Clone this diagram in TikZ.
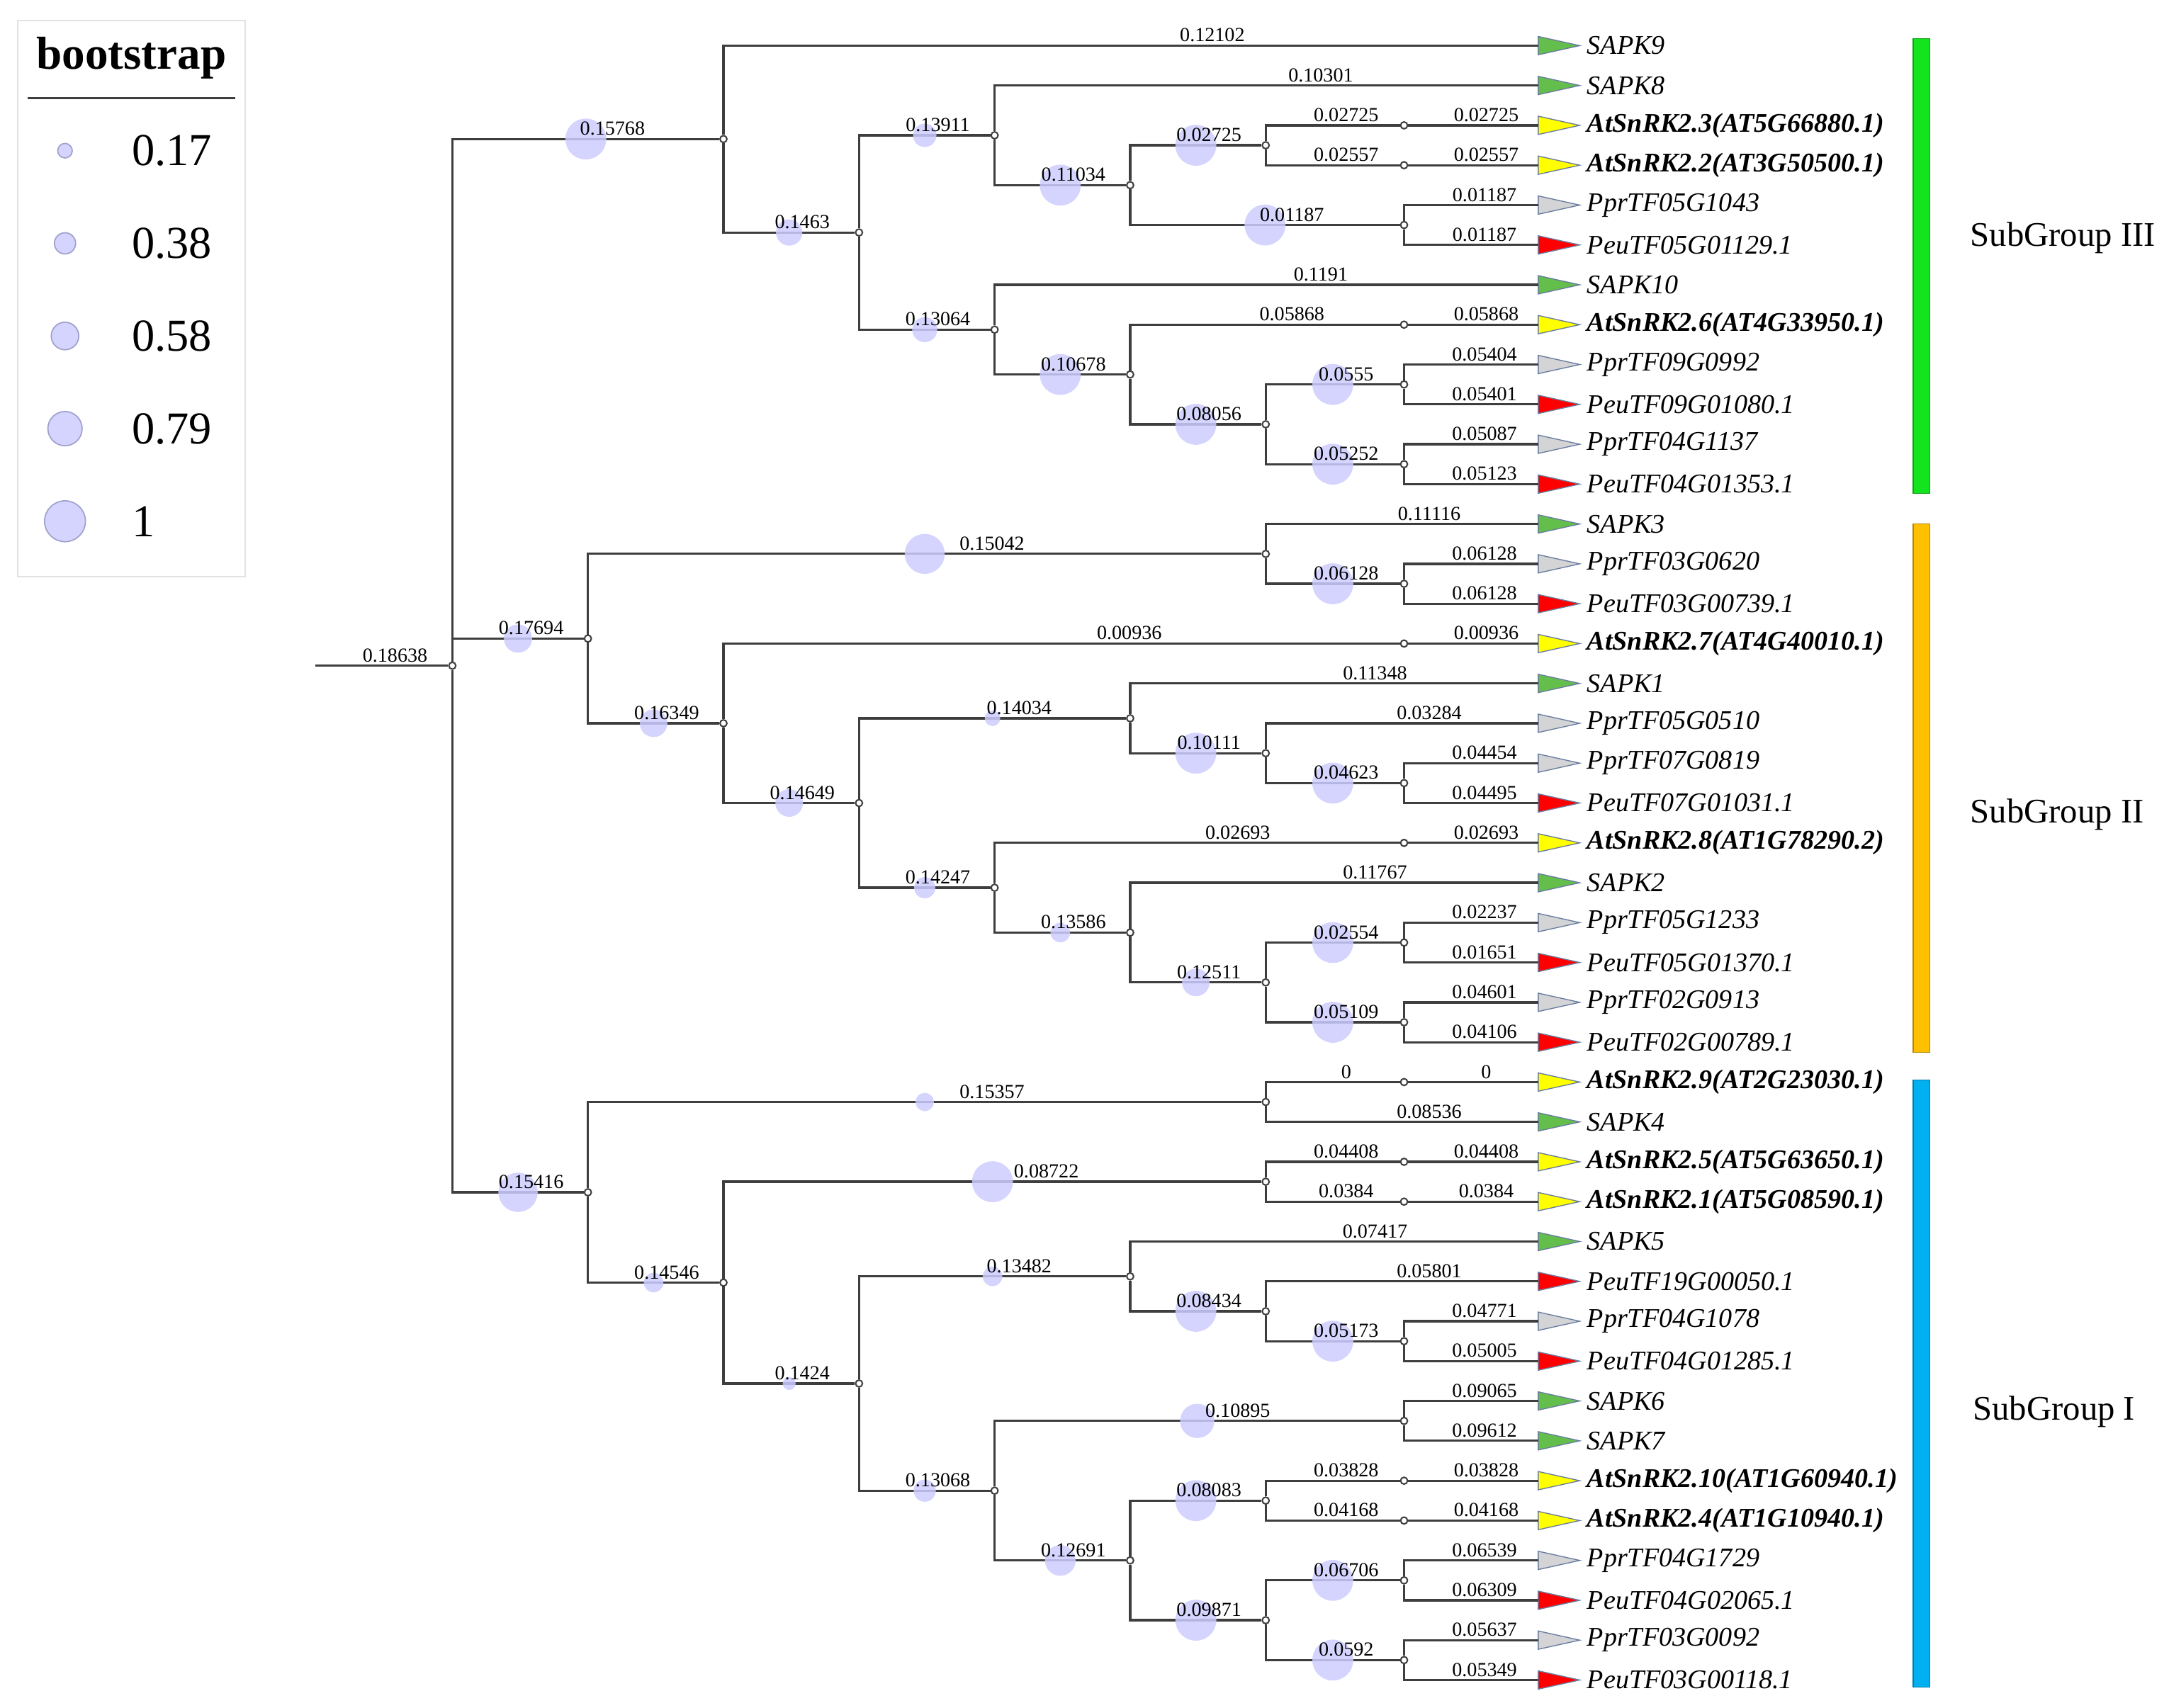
\documentclass[tikz,border=0pt]{standalone}
\usepackage{fontspec}
\setmainfont{Liberation Serif}
\usepackage{tikz}

\definecolor{linecol}{RGB}{62,62,62}
\definecolor{bootfill}{RGB}{204,204,255}
\definecolor{bootedge}{RGB}{160,160,205}
\definecolor{csapk}{RGB}{100,190,75}
\definecolor{catg}{RGB}{255,255,0}
\definecolor{cppr}{RGB}{212,212,214}
\definecolor{cpeu}{RGB}{255,0,0}
\definecolor{triedge}{RGB}{105,125,160}
\definecolor{legframe}{RGB}{226,226,226}
\definecolor{barIII}{RGB}{20,228,30}
\definecolor{barII}{RGB}{255,192,0}
\definecolor{barI}{RGB}{0,176,240}

\newcommand\leaffont{\fontsize{11.1}{13}\selectfont}
\newcommand\blenfont{\fontsize{8.2}{9}\selectfont}

\tikzset{
  branch/.style={draw=linecol, line width=0.95pt},
  knot/.style={circle, draw=linecol, fill=white, line width=0.6pt, inner sep=0pt, minimum size=0.1cm},
  boot/.style={circle, fill=bootfill, fill opacity=0.85, inner sep=0pt, minimum size={(0.132+0.46*#1)*1cm}},
  blen/.style={pos=0.8, anchor=south, inner sep=1pt, font=\blenfont, text=black},
  leaf/.style={anchor=west, inner sep=0pt, font=\leaffont\itshape},
  labsapk/.style={}, labppr/.style={}, labpeu/.style={},
  labatg/.style={font=\leaffont\bfseries\itshape},
  leaftri/.style={fill=c#1, draw=triedge, line width=0.4pt},
  grp/.style={anchor=west, inner sep=0pt, font=\fontsize{14.2}{16}\selectfont},
  bar/.style={fill=#1, draw=#1!70!black, line width=0.4pt},
}

\begin{document}
\begin{tikzpicture}[x=0.02cm, y=-0.5766cm]
\useasboundingbox (0,-1.1446) rectangle (1568,41.692);

%% legend
\draw[legframe, line width=0.6pt] (13,-0.624) rectangle (177,13.319);
\node[font=\fontsize{19}{21}\selectfont\bfseries] (bs) at (95,0.312) {bootstrap};
\draw[linecol, line width=0.8pt] (20,1.318) -- (170,1.318);
\foreach \b/\r [count=\j] in {0.17/2.636, 0.38/4.960, 0.58/7.284, 0.79/9.608, 1/11.932}{
  \node[boot=\b, draw=bootedge, line width=0.5pt] (lc\j) at (47,\r) {};
  \node[anchor=west, inner sep=0pt, font=\fontsize{18.8}{21}\selectfont] (lt\j) at (95,\r) {\b};
}

%% leaves
\foreach \txt/\k [count=\i from 0] in {SAPK9/sapk, SAPK8/sapk, AtSnRK2.3(AT5G66880.1)/atg, AtSnRK2.2(AT3G50500.1)/atg,
  PprTF05G1043/ppr, PeuTF05G01129.1/peu, SAPK10/sapk, AtSnRK2.6(AT4G33950.1)/atg, PprTF09G0992/ppr,
  PeuTF09G01080.1/peu, PprTF04G1137/ppr, PeuTF04G01353.1/peu, SAPK3/sapk, PprTF03G0620/ppr,
  PeuTF03G00739.1/peu, AtSnRK2.7(AT4G40010.1)/atg, SAPK1/sapk, PprTF05G0510/ppr, PprTF07G0819/ppr,
  PeuTF07G01031.1/peu, AtSnRK2.8(AT1G78290.2)/atg, SAPK2/sapk, PprTF05G1233/ppr, PeuTF05G01370.1/peu,
  PprTF02G0913/ppr, PeuTF02G00789.1/peu, AtSnRK2.9(AT2G23030.1)/atg, SAPK4/sapk, AtSnRK2.5(AT5G63650.1)/atg,
  AtSnRK2.1(AT5G08590.1)/atg, SAPK5/sapk, PeuTF19G00050.1/peu, PprTF04G1078/ppr, PeuTF04G01285.1/peu,
  SAPK6/sapk, SAPK7/sapk, AtSnRK2.10(AT1G60940.1)/atg, AtSnRK2.4(AT1G10940.1)/atg, PprTF04G1729/ppr,
  PeuTF04G02065.1/peu, PprTF03G0092/ppr, PeuTF03G00118.1/peu}{
  \coordinate (t\i) at (1112,\i);
  \filldraw[leaftri=\k] (t\i) ++(0,-0.23) -- ++(30,0.23) -- ++(-30,0.23) -- cycle;
  \node[leaf, lab\k] (n\i) at (1147,\i) {\txt};
}

%% nodes
\coordinate (base) at (228,15.5547);
\node[knot] (rt) at (327,15.5547) {};
% SubGroup III
\node[knot] (v15768) at (523,2.34375) {};
\node[knot] (v1463) at (621,4.6875) {};
\node[knot] (v13911) at (719,2.25) {};
\node[knot] (v11034) at (817,3.5) {};
\node[knot] (v02725) at (915,2.5) {};
\node[knot] (k2) at (1015,2) {};
\node[knot] (k3) at (1015,3) {};
\node[knot] (v01187) at (1015,4.5) {};
\node[knot] (v13064) at (719,7.125) {};
\node[knot] (v10678) at (817,8.25) {};
\node[knot] (k7) at (1015,7) {};
\node[knot] (v08056) at (915,9.5) {};
\node[knot] (v0555) at (1015,8.5) {};
\node[knot] (v05252) at (1015,10.5) {};
% SubGroup II
\node[knot] (v17694) at (425,14.875) {};
\node[knot] (v15042) at (915,12.75) {};
\node[knot] (v06128) at (1015,13.5) {};
\node[knot] (v16349) at (523,17) {};
\node[knot] (k15) at (1015,15) {};
\node[knot] (v14649) at (621,19) {};
\node[knot] (v14034) at (817,16.875) {};
\node[knot] (v10111) at (915,17.75) {};
\node[knot] (v04623) at (1015,18.5) {};
\node[knot] (v14247) at (719,21.125) {};
\node[knot] (k20) at (1015,20) {};
\node[knot] (v13586) at (817,22.25) {};
\node[knot] (v12511) at (915,23.5) {};
\node[knot] (v02554) at (1015,22.5) {};
\node[knot] (v05109) at (1015,24.5) {};
% SubGroup I
\node[knot] (v15416) at (425,28.765625) {};
\node[knot] (v15357) at (915,26.5) {};
\node[knot] (k26) at (1015,26) {};
\node[knot] (v14546) at (523,31.03125) {};
\node[knot] (v08722) at (915,28.5) {};
\node[knot] (k28) at (1015,28) {};
\node[knot] (k29) at (1015,29) {};
\node[knot] (v1424) at (621,33.5625) {};
\node[knot] (v13482) at (817,30.875) {};
\node[knot] (v08434) at (915,31.75) {};
\node[knot] (v05173) at (1015,32.5) {};
\node[knot] (v13068) at (719,36.25) {};
\node[knot] (v10895) at (1015,34.5) {};
\node[knot] (v12691) at (817,38) {};
\node[knot] (v08083) at (915,36.5) {};
\node[knot] (k36) at (1015,36) {};
\node[knot] (k37) at (1015,37) {};
\node[knot] (v09871) at (915,39.5) {};
\node[knot] (v06706) at (1015,38.5) {};
\node[knot] (v0592) at (1015,40.5) {};

%%% edges
\draw[branch] (base) -- node[blen,pos=0.6]{0.18638} (rt);
\draw[branch] (rt) |- node[boot=1,pos=0.75]{} node[blen]{0.15768} (v15768);
\draw[branch] (rt) |- node[boot=0.6,pos=0.75]{} node[blen]{0.17694} (v17694);
\draw[branch] (rt) |- node[boot=0.95,pos=0.75]{} node[blen]{0.15416} (v15416);
% SubGroup III
\draw[branch] (v15768) |- node[blen]{0.12102} (t0);
\draw[branch] (v15768) |- node[boot=0.54,pos=0.75]{} node[blen]{0.1463} (v1463);
\draw[branch] (v1463) |- node[boot=0.45,pos=0.75]{} node[blen]{0.13911} (v13911);
\draw[branch] (v1463) |- node[boot=0.5,pos=0.75]{} node[blen]{0.13064} (v13064);
\draw[branch] (v13911) |- node[blen]{0.10301} (t1);
\draw[branch] (v13911) |- node[boot=1,pos=0.75]{} node[blen]{0.11034} (v11034);
\draw[branch] (v11034) |- node[boot=1,pos=0.75]{} node[blen]{0.02725} (v02725);
\draw[branch] (v11034) |- node[boot=1,pos=0.75]{} node[blen]{0.01187} (v01187);
\draw[branch] (v02725) |- node[blen]{0.02725} (k2);
\draw[branch] (k2) -- node[blen,pos=0.6]{0.02725} (t2);
\draw[branch] (v02725) |- node[blen]{0.02557} (k3);
\draw[branch] (k3) -- node[blen,pos=0.6]{0.02557} (t3);
\draw[branch] (v01187) |- node[blen]{0.01187} (t4);
\draw[branch] (v01187) |- node[blen]{0.01187} (t5);
\draw[branch] (v13064) |- node[blen]{0.1191} (t6);
\draw[branch] (v13064) |- node[boot=1,pos=0.75]{} node[blen]{0.10678} (v10678);
\draw[branch] (v10678) |- node[blen]{0.05868} (k7);
\draw[branch] (k7) -- node[blen,pos=0.6]{0.05868} (t7);
\draw[branch] (v10678) |- node[boot=1,pos=0.75]{} node[blen]{0.08056} (v08056);
\draw[branch] (v08056) |- node[boot=1,pos=0.75]{} node[blen]{0.0555} (v0555);
\draw[branch] (v08056) |- node[boot=1,pos=0.75]{} node[blen]{0.05252} (v05252);
\draw[branch] (v0555) |- node[blen]{0.05404} (t8);
\draw[branch] (v0555) |- node[blen]{0.05401} (t9);
\draw[branch] (v05252) |- node[blen]{0.05087} (t10);
\draw[branch] (v05252) |- node[blen]{0.05123} (t11);
% SubGroup II
\draw[branch] (v17694) |- node[boot=0.97,pos=0.75]{} node[blen]{0.15042} (v15042);
\draw[branch] (v17694) |- node[boot=0.58,pos=0.75]{} node[blen]{0.16349} (v16349);
\draw[branch] (v15042) |- node[blen]{0.11116} (t12);
\draw[branch] (v15042) |- node[boot=1,pos=0.75]{} node[blen]{0.06128} (v06128);
\draw[branch] (v06128) |- node[blen]{0.06128} (t13);
\draw[branch] (v06128) |- node[blen]{0.06128} (t14);
\draw[branch] (v16349) |- node[blen]{0.00936} (k15);
\draw[branch] (k15) -- node[blen,pos=0.6]{0.00936} (t15);
\draw[branch] (v16349) |- node[boot=0.58,pos=0.75]{} node[blen]{0.14649} (v14649);
\draw[branch] (v14649) |- node[boot=0.2,pos=0.75]{} node[blen]{0.14034} (v14034);
\draw[branch] (v14649) |- node[boot=0.38,pos=0.75]{} node[blen]{0.14247} (v14247);
\draw[branch] (v14034) |- node[blen]{0.11348} (t16);
\draw[branch] (v14034) |- node[boot=1,pos=0.75]{} node[blen]{0.10111} (v10111);
\draw[branch] (v10111) |- node[blen]{0.03284} (t17);
\draw[branch] (v10111) |- node[boot=1,pos=0.75]{} node[blen]{0.04623} (v04623);
\draw[branch] (v04623) |- node[blen]{0.04454} (t18);
\draw[branch] (v04623) |- node[blen]{0.04495} (t19);
\draw[branch] (v14247) |- node[blen]{0.02693} (k20);
\draw[branch] (k20) -- node[blen,pos=0.6]{0.02693} (t20);
\draw[branch] (v14247) |- node[boot=0.33,pos=0.75]{} node[blen]{0.13586} (v13586);
\draw[branch] (v13586) |- node[blen]{0.11767} (t21);
\draw[branch] (v13586) |- node[boot=0.58,pos=0.75]{} node[blen]{0.12511} (v12511);
\draw[branch] (v12511) |- node[boot=1,pos=0.75]{} node[blen]{0.02554} (v02554);
\draw[branch] (v12511) |- node[boot=1,pos=0.75]{} node[blen]{0.05109} (v05109);
\draw[branch] (v02554) |- node[blen]{0.02237} (t22);
\draw[branch] (v02554) |- node[blen]{0.01651} (t23);
\draw[branch] (v05109) |- node[blen]{0.04601} (t24);
\draw[branch] (v05109) |- node[blen]{0.04106} (t25);
% SubGroup I
\draw[branch] (v15416) |- node[boot=0.29,pos=0.75]{} node[blen]{0.15357} (v15357);
\draw[branch] (v15416) |- node[boot=0.33,pos=0.75]{} node[blen]{0.14546} (v14546);
\draw[branch] (v15357) |- node[blen]{0} (k26);
\draw[branch] (k26) -- node[blen,pos=0.6]{0} (t26);
\draw[branch] (v15357) |- node[blen]{0.08536} (t27);
\draw[branch] (v14546) |- node[boot=1,pos=0.75]{} node[blen]{0.08722} (v08722);
\draw[branch] (v14546) |- node[boot=0.12,pos=0.75]{} node[blen]{0.1424} (v1424);
\draw[branch] (v08722) |- node[blen]{0.04408} (k28);
\draw[branch] (k28) -- node[blen,pos=0.6]{0.04408} (t28);
\draw[branch] (v08722) |- node[blen]{0.0384} (k29);
\draw[branch] (k29) -- node[blen,pos=0.6]{0.0384} (t29);
\draw[branch] (v1424) |- node[boot=0.33,pos=0.75]{} node[blen]{0.13482} (v13482);
\draw[branch] (v1424) |- node[boot=0.41,pos=0.75]{} node[blen]{0.13068} (v13068);
\draw[branch] (v13482) |- node[blen]{0.07417} (t30);
\draw[branch] (v13482) |- node[boot=1,pos=0.75]{} node[blen]{0.08434} (v08434);
\draw[branch] (v08434) |- node[blen]{0.05801} (t31);
\draw[branch] (v08434) |- node[boot=1,pos=0.75]{} node[blen]{0.05173} (v05173);
\draw[branch] (v05173) |- node[blen]{0.04771} (t32);
\draw[branch] (v05173) |- node[blen]{0.05005} (t33);
\draw[branch] (v13068) |- node[boot=0.79,pos=0.75]{} node[blen]{0.10895} (v10895);
\draw[branch] (v13068) |- node[boot=0.68,pos=0.75]{} node[blen]{0.12691} (v12691);
\draw[branch] (v10895) |- node[blen]{0.09065} (t34);
\draw[branch] (v10895) |- node[blen]{0.09612} (t35);
\draw[branch] (v12691) |- node[boot=1,pos=0.75]{} node[blen]{0.08083} (v08083);
\draw[branch] (v12691) |- node[boot=1,pos=0.75]{} node[blen]{0.09871} (v09871);
\draw[branch] (v08083) |- node[blen]{0.03828} (k36);
\draw[branch] (k36) -- node[blen,pos=0.6]{0.03828} (t36);
\draw[branch] (v08083) |- node[blen]{0.04168} (k37);
\draw[branch] (k37) -- node[blen,pos=0.6]{0.04168} (t37);
\draw[branch] (v09871) |- node[boot=1,pos=0.75]{} node[blen]{0.06706} (v06706);
\draw[branch] (v09871) |- node[boot=1,pos=0.75]{} node[blen]{0.0592} (v0592);
\draw[branch] (v06706) |- node[blen]{0.06539} (t38);
\draw[branch] (v06706) |- node[blen]{0.06309} (t39);
\draw[branch] (v0592) |- node[blen]{0.05637} (t40);
\draw[branch] (v0592) |- node[blen]{0.05349} (t41);

%% group bars
\draw[bar=barIII] (1383,-0.173) rectangle (1395,11.238);
\draw[bar=barII] (1383,12.001) rectangle (1395,25.251);
\draw[bar=barI] (1383,25.945) rectangle (1395,41.173);
\node[grp] (g3) at (1424,4.821) {SubGroup III};
\node[grp] (g2) at (1424,19.285) {SubGroup II};
\node[grp] (g1) at (1426,34.27) {SubGroup I};
\end{tikzpicture}
\end{document}
